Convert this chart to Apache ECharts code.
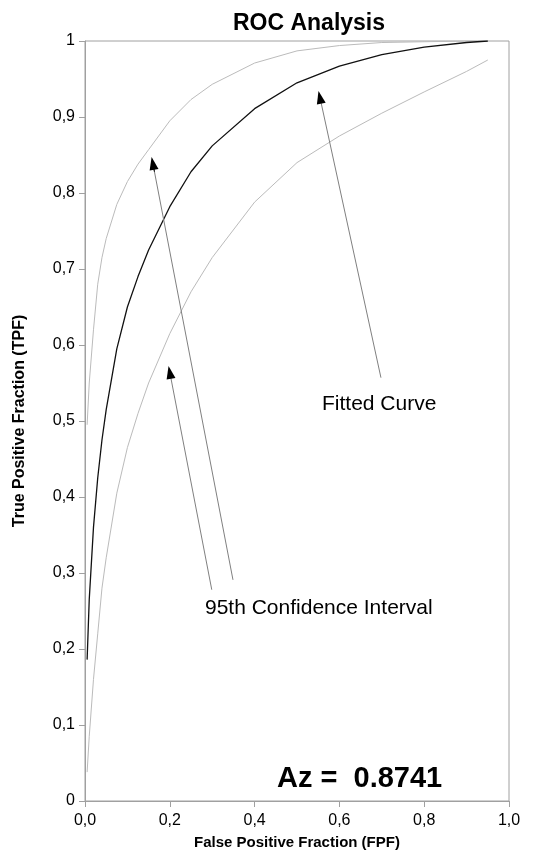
<!DOCTYPE html>
<html>
<head>
<meta charset="utf-8">
<script src="https://cdn.jsdelivr.net/npm/echarts@6/dist/echarts.min.js"></script>
<style>
html,body{margin:0;padding:0;background:#fff;}
#chart{width:540px;height:859px;}
</style>
</head>
<body>
<div id="chart"></div>
<script>
// ---- data ----
const fpf = [0.005, 0.01, 0.02, 0.03, 0.04, 0.05, 0.075, 0.1, 0.125, 0.15, 0.2, 0.25, 0.3, 0.4, 0.5, 0.6, 0.7, 0.8, 0.9, 0.95];
const fittedTPF = [0.186, 0.265, 0.36, 0.425, 0.475, 0.515, 0.595, 0.65, 0.69, 0.725, 0.782, 0.828, 0.862, 0.911, 0.945, 0.967, 0.982, 0.992, 0.998, 1.0];
const upperTPF = [0.495, 0.55, 0.62, 0.68, 0.715, 0.74, 0.785, 0.815, 0.838, 0.857, 0.895, 0.923, 0.943, 0.971, 0.987, 0.994, 0.998, 0.999, 1.0, 1.0];
const lowerTPF = [0.038, 0.085, 0.16, 0.22, 0.28, 0.32, 0.405, 0.465, 0.51, 0.55, 0.615, 0.67, 0.715, 0.788, 0.84, 0.875, 0.905, 0.933, 0.96, 0.975];

const xTicks = [0, 0.2, 0.4, 0.6, 0.8, 1.0];
const yTicks = [0, 0.1, 0.2, 0.3, 0.4, 0.5, 0.6, 0.7, 0.8, 0.9, 1.0];

// annotation arrows (tail -> head) in data units
const arrowTails = [[0.698, 0.557], [0.349, 0.291], [0.299, 0.278]];
const arrowHeads = [[0.554, 0.926], [0.160, 0.839], [0.200, 0.564]];

const titleText = 'ROC Analysis';
const xName = 'False Positive Fraction (FPF)';
const yName = 'True Positive Fraction (TPF)';
const fittedLabel = 'Fitted Curve';
const ciLabel = '95th Confidence Interval';
const azLabel = 'Az =  0.8741';

const FONT = 'Arial, "Liberation Sans", Helvetica, sans-serif';

function pairs(xs, ys) { return xs.map((x, i) => [x, ys[i]]); }
function fmt(v) {
  if (Math.abs(v) < 1e-9) return '0';
  if (Math.abs(v - 1) < 1e-9) return '1';
  return v.toFixed(1).replace('.', ',');
}

const lineMarks = arrowTails.map((t, i) => [
  { coord: t, symbol: 'none' },
  { coord: arrowHeads[i], symbol: 'none' }
]);
const headMarks = arrowTails.map((t, i) => {
  const h = arrowHeads[i];
  const s = [h[0] - 0.02 * (h[0] - t[0]), h[1] - 0.02 * (h[1] - t[1])];
  return [{ coord: s, symbol: 'none' }, { coord: h, symbol: 'triangle', symbolSize: [9, 13] }];
});

const chart = echarts.init(document.getElementById('chart'), null, { renderer: 'canvas' });
chart.setOption({
  animation: false,
  backgroundColor: '#fff',
  grid: { left: 85, right: 31, top: 41, bottom: 58, show: true, borderColor: '#a0a0a0', borderWidth: 1, containLabel: false },
  xAxis: {
    type: 'value', min: 0, max: 1, interval: 0.2,
    name: xName, nameLocation: 'middle', nameGap: 34,
    nameTextStyle: { fontFamily: FONT, fontWeight: 'bold', fontSize: 15, color: '#000' },
    axisLine: { show: true, lineStyle: { color: '#a0a0a0', width: 1 } },
    axisTick: { show: true, inside: false, length: 6, lineStyle: { color: '#a0a0a0' } },
    splitLine: { show: false },
    axisLabel: { fontFamily: FONT, fontSize: 16, color: '#000', margin: 12, formatter: v => v.toFixed(1).replace('.', ',') }
  },
  yAxis: {
    type: 'value', min: 0, max: 1, interval: 0.1,
    name: yName, nameLocation: 'middle', nameGap: 57, nameRotate: 90,
    nameTextStyle: { fontFamily: FONT, fontWeight: 'bold', fontSize: 16, color: '#000' },
    axisLine: { show: true, lineStyle: { color: '#a0a0a0', width: 1 } },
    axisTick: { show: true, inside: false, length: 6, lineStyle: { color: '#a0a0a0' } },
    splitLine: { show: false },
    axisLabel: { fontFamily: FONT, fontSize: 16, color: '#000', margin: 10, formatter: fmt }
  },
  series: [
    { name: 'Upper 95% CI', type: 'line', data: pairs(fpf, upperTPF), showSymbol: false, symbol: 'none',
      lineStyle: { color: '#bbbbbb', width: 1 }, silent: true, z: 2 },
    { name: 'Lower 95% CI', type: 'line', data: pairs(fpf, lowerTPF), showSymbol: false, symbol: 'none',
      lineStyle: { color: '#bbbbbb', width: 1 }, silent: true, z: 2 },
    { name: 'Fitted Curve', type: 'line', data: pairs(fpf, fittedTPF), showSymbol: false, symbol: 'none',
      lineStyle: { color: '#111', width: 1.3 }, silent: true, z: 3 },
    { name: 'arrows', type: 'line', data: [], silent: true, z: 4,
      markLine: { silent: true, animation: false, symbol: 'none', label: { show: false },
        lineStyle: { color: '#808080', width: 1, type: 'solid' }, emphasis: { disabled: true },
        data: lineMarks } },
    { name: 'heads', type: 'line', data: [], silent: true, z: 5,
      markLine: { silent: true, animation: false, label: { show: false },
        lineStyle: { color: '#000', width: 1, type: 'solid' },
        itemStyle: { color: '#000' }, emphasis: { disabled: true },
        data: headMarks } }
  ],
  graphic: [
    { type: 'text', x: 309, y: 24, style: { text: titleText, fontFamily: FONT, fontWeight: 'bold', fontSize: 23, fill: '#000', textAlign: 'center', textVerticalAlign: 'middle' } },
    { type: 'text', x: 322, y: 404, style: { text: fittedLabel, fontFamily: FONT, fontSize: 21, fill: '#000', textAlign: 'left', textVerticalAlign: 'middle' } },
    { type: 'text', x: 205, y: 608, style: { text: ciLabel, fontFamily: FONT, fontSize: 21, fill: '#000', textAlign: 'left', textVerticalAlign: 'middle' } },
    { type: 'text', x: 277, y: 779, style: { text: azLabel, fontFamily: FONT, fontWeight: 'bold', fontSize: 29, fill: '#000', textAlign: 'left', textVerticalAlign: 'middle' } }
  ]
});
</script>
</body>
</html>
